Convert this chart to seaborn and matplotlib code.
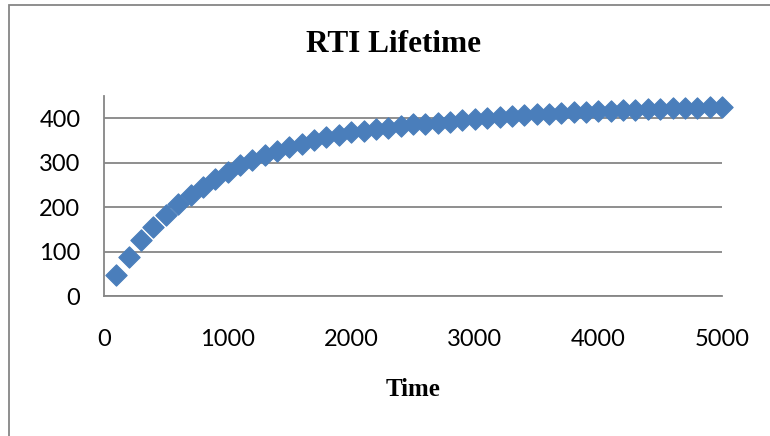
import matplotlib
matplotlib.use("Agg")
import matplotlib.pyplot as plt
import seaborn as sns
import pandas as pd
from matplotlib.patches import Rectangle

# ---- data ----
time = [100, 200, 300, 400, 500, 600, 700, 800, 900, 1000,
        1100, 1200, 1300, 1400, 1500, 1600, 1700, 1800, 1900, 2000,
        2100, 2200, 2300, 2400, 2500, 2600, 2700, 2800, 2900, 3000,
        3100, 3200, 3300, 3400, 3500, 3600, 3700, 3800, 3900, 4000,
        4100, 4200, 4300, 4400, 4500, 4600, 4700, 4800, 4900, 5000]
lifetime = [48, 88, 125, 155, 182, 207, 227, 246, 264, 280,
            295, 306, 317, 327, 336, 343, 351, 357, 363, 368,
            372, 376, 379, 383, 386, 388, 390, 392, 395, 398,
            401, 403, 405, 407, 409, 410, 412, 413, 415, 416,
            417, 418, 419, 420, 421, 422, 423, 424, 425, 426]
x_ticks = [0, 1000, 2000, 3000, 4000, 5000]
y_ticks = [0, 100, 200, 300, 400]
title = "RTI Lifetime"
xlabel = "Time"

df = pd.DataFrame({"Time": time, "Lifetime": lifetime})

sns.set_style("white")
plt.rcParams["font.family"] = ["Lato", "DejaVu Sans"]
plt.rcParams["text.color"] = "black"

W, H = 770, 436
fig = plt.figure(figsize=(W / 100, H / 100), dpi=100)
ax = fig.add_axes([104 / W, 1 - 296 / H, (722 - 104) / W, (296 - 96) / H])

grid_c = "#868686"
for yv in y_ticks:
    ax.axhline(yv, color=grid_c, lw=1.3, zorder=1)

sns.scatterplot(data=df, x="Time", y="Lifetime", marker="D", s=118,
                color="#4a7ebb", edgecolor="#4a7ebb", linewidth=0.8,
                ax=ax, zorder=3, clip_on=False, legend=False)

ax.set_xlim(0, 5000)
ax.set_ylim(0, 450)
ax.set_xticks(x_ticks)
ax.set_yticks(y_ticks)
ax.set_xticklabels([str(v) for v in x_ticks])
ax.set_yticklabels([str(v) for v in y_ticks])
ax.tick_params(axis="both", length=0, labelsize=17, colors="black")
ax.tick_params(axis="y", pad=17)
ax.tick_params(axis="x", pad=24)
ax.set_xlabel("")
ax.set_ylabel("")
for side in ["top", "right"]:
    ax.spines[side].set_visible(False)
for side in ["left", "bottom"]:
    ax.spines[side].set_color(grid_c)
    ax.spines[side].set_linewidth(1.3)

fig.text(394 / W, 1 - 45 / H, title, ha="center", va="center", color="black",
         fontsize=22.5, fontweight="bold", family="Liberation Serif")
fig.text(413 / W, 1 - 389 / H, xlabel, ha="center", va="center", color="black",
         fontsize=18, fontweight="bold", family="Liberation Serif")

fig.patches.append(Rectangle((9 / W, -0.1), 1.2, 1.1 - 5 / H,
                             transform=fig.transFigure, fill=False,
                             edgecolor=grid_c, lw=1.3))

fig.savefig("out.png", dpi=100)
